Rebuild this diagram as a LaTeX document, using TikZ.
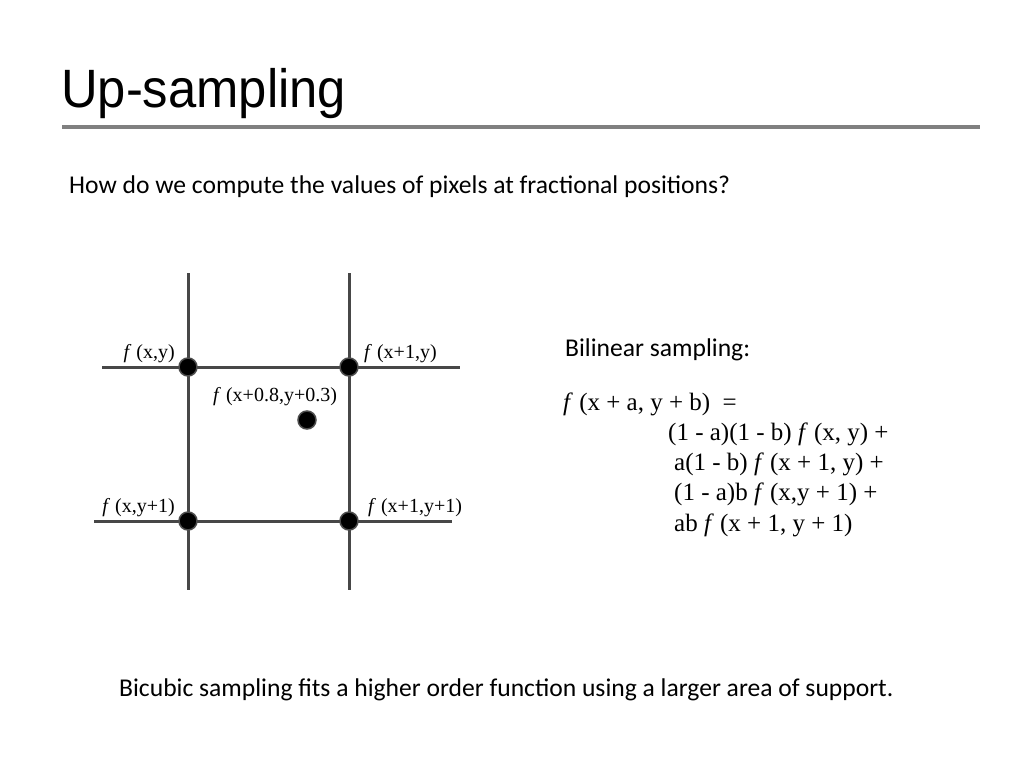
\documentclass[tikz,border=0pt]{standalone}
\usepackage{fontspec}
\setmainfont{Carlito}
\newfontfamily\titlefont{Liberation Sans}
\newfontfamily\eqfont{Liberation Serif}
\newcommand\fval{\textit{f}}
\tikzset{
  gridline/.style={line width=3pt, draw=black!72},
  sample/.style={circle, fill=black, draw=black!70, line width=1.5pt, inner sep=0pt, minimum size=18pt},
  flabel/.style={font=\eqfont\fontsize{20}{22}\selectfont, inner sep=0pt},
  eqline/.style={font=\eqfont\fontsize{25}{30}\selectfont, inner sep=0pt, anchor=base west},
  bodytext/.style={font=\fontsize{25.6}{30}\selectfont, inner sep=0pt, anchor=base west}
}
\begin{document}
\begin{tikzpicture}[x=1pt, y=-1pt]
\useasboundingbox (0,0) rectangle (1024,768);
\node[font=\titlefont\fontsize{54}{60}\selectfont, inner sep=0pt, anchor=base west] (title) at (61,107) {\scalebox{0.94}[1]{Up-sampling}};
\draw[line width=4pt, black!50] (62,127) -- (980,127);
\node[bodytext] (question) at (69,193) {How do we compute the values of pixels at fractional positions?};

\coordinate (v0t) at (188,273);
\coordinate (v0b) at (188,590);
\coordinate (v1t) at (349,273);
\coordinate (v1b) at (349,590);
\coordinate (h0l) at (102,367);
\coordinate (h0r) at (460,367);
\coordinate (h1l) at (94,521);
\coordinate (h1r) at (452,521);
\draw[gridline] (v0t) -- (v0b);
\draw[gridline] (v1t) -- (v1b);
\draw[gridline] (h0l) -- (h0r);
\draw[gridline] (h1l) -- (h1r);

\node[sample] (p00) at (188,367) {};
\node[sample] (p10) at (349,367) {};
\node[sample] (p01) at (188,521) {};
\node[sample] (p11) at (349,521) {};
\node[sample] (q) at (307,420) {};

\node[flabel, anchor=base east] (l00) at (175,358) {\fval\ (x,y)};
\node[flabel, anchor=base west] (l10) at (364,358) {\fval\ (x+1,y)};
\node[flabel, anchor=base west] (lq) at (213,401) {\fval\ (x+0.8,y+0.3)};
\node[flabel, anchor=base east] (l01) at (175,512) {\fval\ (x,y+1)};
\node[flabel, anchor=base west] (l11) at (368,512) {\fval\ (x+1,y+1)};

\node[bodytext] (bilinear) at (565,356) {Bilinear sampling:};
\node[eqline] (eq0) at (563,410) {\fval\ (x + a, y + b)\ \ =};
\node[eqline] (eq1) at (668,440) {(1 - a)(1 - b) \fval\ (x, y) +};
\node[eqline] (eq2) at (674,470) {a(1 - b) \fval\ (x + 1, y) +};
\node[eqline] (eq3) at (674,500) {(1 - a)b \fval\ (x,y + 1) +};
\node[eqline] (eq4) at (674,531) {ab \fval\ (x + 1, y + 1)};

\node[bodytext] (bicubic) at (119,696) {Bicubic sampling fits a higher order function using a larger area of support.};
\end{tikzpicture}
\end{document}
